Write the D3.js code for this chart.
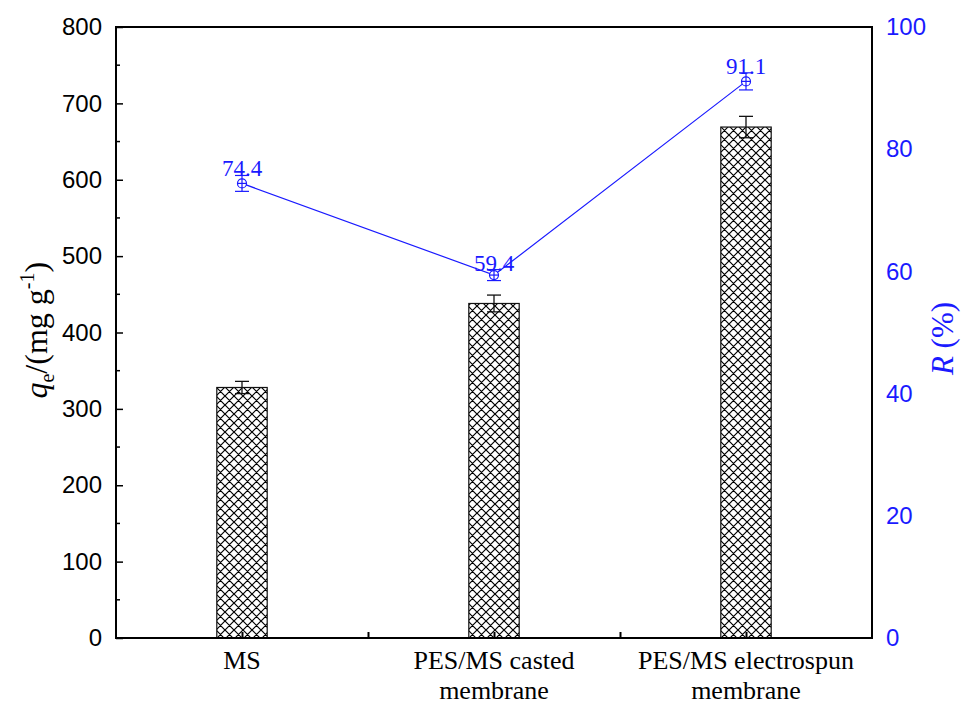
<!DOCTYPE html>
<html>
<head>
<meta charset="utf-8">
<script src="https://cdn.jsdelivr.net/npm/d3@7"></script>
<style>
  body { margin: 0; background: #fff; }
  svg { display: block; }
</style>
</head>
<body>
<div id="chart"></div>
<script>
// Adsorption capacity (bars, left axis) and removal ratio (line, right axis)
const categories = ["MS", "PES/MS casted membrane", "PES/MS electrospun membrane"];
const categoryLines = [["MS"], ["PES/MS casted", "membrane"], ["PES/MS electrospun", "membrane"]];
const qeValues = [328, 438, 669];
const qeErrors = [8, 11, 14];
const rValues = [74.4, 59.4, 91.1];
const rErrors = [1.3, 0.9, 1.4];
const leftTicks = [0, 100, 200, 300, 400, 500, 600, 700, 800];
const rightTicks = [0, 20, 40, 60, 80, 100];

const width = 962, height = 705;
const margin = { left: 116, right: 90, top: 27, bottom: 67 };
const blue = "#1a1aff";

const svg = d3.select("#chart").append("svg")
    .attr("width", width)
    .attr("height", height);

// crosshatch fill for the bars
const P = 9;
const defs = svg.append("defs");
const pat = defs.append("pattern")
    .attr("id", "hatch")
    .attr("patternUnits", "userSpaceOnUse")
    .attr("width", P)
    .attr("height", P);
pat.append("rect").attr("width", P).attr("height", P).attr("fill", "#fff");
pat.append("path")
    .attr("d", `M-1,1 L1,-1 M0,${P} L${P},0 M${P - 1},${P + 1} L${P + 1},${P - 1} M-1,${P - 1} L1,${P + 1} M0,0 L${P},${P} M${P - 1},-1 L${P + 1},1`)
    .attr("stroke", "#000")
    .attr("stroke-width", 1.2);

const x = d3.scaleLinear()
    .domain([0.5, 3.5])
    .range([margin.left, width - margin.right]);
const yL = d3.scaleLinear()
    .domain([0, 800])
    .range([height - margin.bottom, margin.top]);
const yR = d3.scaleLinear()
    .domain([0, 100])
    .range([height - margin.bottom, margin.top]);

const barW = x(1.2) - x(1);

// bars
svg.append("g")
    .selectAll("rect")
    .data(qeValues)
    .join("rect")
    .attr("x", (d, i) => x(i + 1) - barW / 2)
    .attr("y", d => yL(d))
    .attr("width", barW)
    .attr("height", d => yL(0) - yL(d))
    .attr("fill", "url(#hatch)")
    .attr("stroke", "#111")
    .attr("stroke-width", 1.2);

// bar error bars
const be = svg.append("g").attr("stroke", "#111").attr("stroke-width", 1.3);
qeValues.forEach((v, i) => {
    const cx = x(i + 1);
    be.append("line").attr("x1", cx).attr("x2", cx)
        .attr("y1", yL(v + qeErrors[i])).attr("y2", yL(v - qeErrors[i]));
    be.append("line").attr("x1", cx - 7).attr("x2", cx + 7)
        .attr("y1", yL(v + qeErrors[i])).attr("y2", yL(v + qeErrors[i]));
    be.append("line").attr("x1", cx - 7).attr("x2", cx + 7)
        .attr("y1", yL(v - qeErrors[i])).attr("y2", yL(v - qeErrors[i]));
});

// frame
svg.append("rect")
    .attr("x", margin.left)
    .attr("y", margin.top)
    .attr("width", width - margin.right - margin.left)
    .attr("height", height - margin.bottom - margin.top)
    .attr("fill", "none")
    .attr("stroke", "#000")
    .attr("stroke-width", 2);

// left axis
const leftAxis = svg.append("g")
    .attr("transform", `translate(${margin.left},0)`)
    .call(d3.axisLeft(yL).tickValues(leftTicks).tickSize(-7).tickPadding(14));
leftAxis.select(".domain").remove();
leftAxis.selectAll(".tick line").attr("stroke-width", 1.5);
leftAxis.selectAll("text")
    .attr("font-family", "Arial, 'Liberation Sans', sans-serif")
    .attr("font-size", 24)
    .attr("fill", "#000");
svg.append("g")
    .selectAll("line")
    .data(d3.range(50, 800, 100))
    .join("line")
    .attr("x1", margin.left).attr("x2", margin.left + 4)
    .attr("y1", d => yL(d)).attr("y2", d => yL(d))
    .attr("stroke", "#000").attr("stroke-width", 1.5);

// right axis (labels only)
const rightAxis = svg.append("g")
    .attr("transform", `translate(${width - margin.right},0)`)
    .call(d3.axisRight(yR).tickValues(rightTicks).tickSize(0).tickPadding(14));
rightAxis.select(".domain").remove();
rightAxis.selectAll("text")
    .attr("font-family", "Arial, 'Liberation Sans', sans-serif")
    .attr("font-size", 24)
    .attr("fill", blue);

// bottom axis
const bottomAxis = svg.append("g")
    .attr("transform", `translate(0,${height - margin.bottom})`)
    .call(d3.axisBottom(x).tickValues([1, 1.5, 2, 2.5, 3]).tickSize(-6).tickFormat(""));
bottomAxis.select(".domain").remove();
bottomAxis.selectAll(".tick line").attr("stroke-width", 2);

const catLabels = svg.append("g")
    .attr("font-family", "'Times New Roman', 'Liberation Serif', serif")
    .attr("font-size", 26)
    .attr("text-anchor", "middle");
categoryLines.forEach((lines, i) => {
    const t = catLabels.append("text").attr("x", x(i + 1)).attr("y", 669);
    lines.forEach((s, j) => {
        t.append("tspan").attr("x", x(i + 1)).attr("dy", j === 0 ? 0 : 30).text(s);
    });
});

// removal ratio line
const line = d3.line()
    .x((d, i) => x(i + 1))
    .y(d => yR(d));
svg.append("path")
    .datum(rValues)
    .attr("d", line)
    .attr("fill", "none")
    .attr("stroke", blue)
    .attr("stroke-width", 1.2);

const re = svg.append("g").attr("stroke", blue).attr("stroke-width", 1.2).attr("fill", "none");
rValues.forEach((v, i) => {
    const cx = x(i + 1), cy = yR(v);
    const top = yR(v + rErrors[i]), bot = yR(v - rErrors[i]);
    re.append("line").attr("x1", cx).attr("x2", cx).attr("y1", top).attr("y2", bot);
    re.append("line").attr("x1", cx - 7).attr("x2", cx + 7).attr("y1", top).attr("y2", top);
    re.append("line").attr("x1", cx - 7).attr("x2", cx + 7).attr("y1", bot).attr("y2", bot);
    re.append("circle").attr("cx", cx).attr("cy", cy).attr("r", 4.5).attr("fill", "#fff");
    re.append("line").attr("x1", cx - 4.5).attr("x2", cx + 4.5).attr("y1", cy).attr("y2", cy);
    re.append("line").attr("x1", cx).attr("x2", cx).attr("y1", cy - 4.5).attr("y2", cy + 4.5);
});

svg.append("g")
    .selectAll("text")
    .data(rValues)
    .join("text")
    .attr("x", (d, i) => x(i + 1))
    .attr("y", (d, i) => yR(d + rErrors[i]) + 1)
    .attr("text-anchor", "middle")
    .attr("font-family", "'Times New Roman', 'Liberation Serif', serif")
    .attr("font-size", 23)
    .attr("fill", blue)
    .text(d => d.toFixed(1));

// axis titles
const yTitle = svg.append("text")
    .attr("transform", `translate(47,${yL(403)}) rotate(-90)`)
    .attr("text-anchor", "middle")
    .attr("font-family", "'Times New Roman', 'Liberation Serif', serif")
    .attr("font-size", 32)
    .attr("fill", "#000");
yTitle.append("tspan").attr("font-style", "italic").text("q");
yTitle.append("tspan").attr("font-size", 20).attr("dy", 7).text("e");
yTitle.append("tspan").attr("dy", -7).text("/(mg g");
yTitle.append("tspan").attr("font-size", 20).attr("dy", -13).text("-1");
yTitle.append("tspan").attr("dy", 13).text(")");

const rTitle = svg.append("text")
    .attr("transform", `translate(953,${yR(50) + 6}) rotate(-90)`)
    .attr("text-anchor", "middle")
    .attr("font-family", "'Times New Roman', 'Liberation Serif', serif")
    .attr("font-size", 31)
    .attr("fill", blue);
rTitle.append("tspan").attr("font-style", "italic").text("R");
rTitle.append("tspan").text(" (%)");
</script>
</body>
</html>
